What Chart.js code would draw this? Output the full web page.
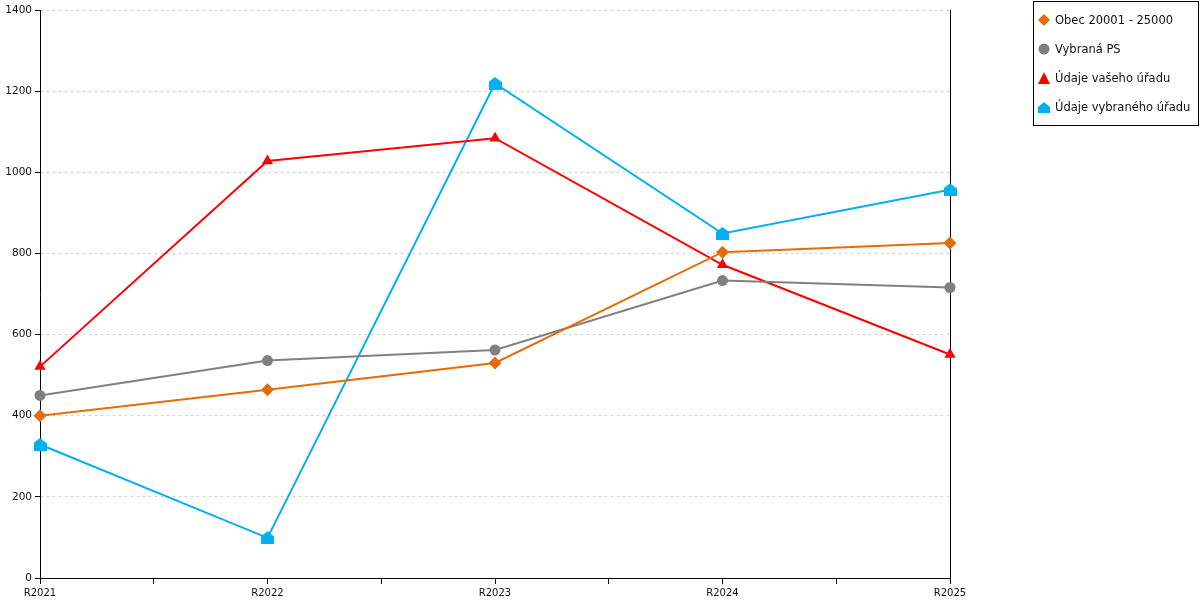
<!DOCTYPE html>
<html>
<head>
<meta charset="utf-8">
<script src="https://cdn.jsdelivr.net/npm/chart.js@4"></script>
<style>
  body { margin: 0; background: #fff; font-family: "DejaVu Sans", sans-serif; }
  #wrap { position: relative; width: 1200px; height: 600px; }
  #legend { position: absolute; left: 1033px; top: 1px; width: 166px; height: 125px; box-sizing: border-box; border: 1px solid #000; }
  .item { position: absolute; left: 4px; height: 14px; font-size: 11.5px; color: #111; line-height: 14px; white-space: nowrap; }
  .item svg { position: absolute; left: 0; top: 1px; }
  .item span { position: absolute; left: 17px; top: 0; }
</style>
</head>
<body>
<div id="wrap">
  <canvas id="lineChart" width="1200" height="600"></canvas>
  <div id="legend"></div>
</div>
<script>
const years = ["R2021", "R2022", "R2023", "R2024", "R2025"];
const seriesNames = ["Obec 20001 - 25000", "Vybraná PS", "Údaje vašeho úřadu", "Údaje vybraného úřadu"];
const obecValues = [400, 464, 530, 803, 826];
const vybranaPsValues = [450, 536, 562, 733, 716];
const vasUradValues = [521, 1028, 1084, 772, 551];
const vybranyUradValues = [329, 99, 1219, 849, 957];
const yTicks = [0, 200, 400, 600, 800, 1000, 1200, 1400];

const colors = ["#e46c0a", "#808080", "#ff0000", "#00b0f0"];

// little "house" shaped marker for the last series
function houseMarker(color) {
    const c = document.createElement('canvas');
    c.width = 13; c.height = 13;
    const g = c.getContext('2d');
    g.fillStyle = color;
    g.beginPath();
    g.moveTo(6.5, 0);
    g.lineTo(13, 5);
    g.lineTo(13, 13);
    g.lineTo(0, 13);
    g.lineTo(0, 5);
    g.closePath();
    g.fill();
    return c;
}

function toPoints(values) {
    return values.map((v, i) => ({ x: i, y: v }));
}

function buildLegend() {
    const shapes = [
        '<polygon points="6,0 12,6 6,12 0,6" fill="' + colors[0] + '"/>',
        '<circle cx="6" cy="6" r="5.5" fill="' + colors[1] + '"/>',
        '<polygon points="6,0 12,12 0,12" fill="' + colors[2] + '"/>',
        '<polygon points="6,1 12,6 12,12 0,12 0,6" fill="' + colors[3] + '"/>'
    ];
    const tops = [12, 41, 70, 99];
    const box = document.getElementById('legend');
    seriesNames.forEach((name, i) => {
        const d = document.createElement('div');
        d.className = 'item';
        d.style.top = (tops[i] - 1) + 'px';
        d.innerHTML = '<svg width="12" height="12">' + shapes[i] + '</svg><span>' + name + '</span>';
        box.appendChild(d);
    });
}

function createChart() {
    const ctx = document.getElementById('lineChart').getContext('2d');
    const pointStyles = ['rectRot', 'circle', 'triangle', houseMarker(colors[3])];
    const radii = [6.5, 5.5, 6.5, 6];
    const allValues = [obecValues, vybranaPsValues, vasUradValues, vybranyUradValues];

    new Chart(ctx, {
        type: 'line',
        data: {
            datasets: allValues.map((vals, i) => ({
                label: seriesNames[i],
                data: toPoints(vals),
                borderColor: colors[i],
                backgroundColor: colors[i],
                borderWidth: 2,
                pointStyle: pointStyles[i],
                pointRadius: radii[i],
                pointHoverRadius: radii[i],
                pointBorderWidth: 0,
                clip: false,
                tension: 0
            }))
        },
        options: {
            responsive: false,
            animation: false,
            layout: { padding: { top: 10 } },
            plugins: { legend: { display: false }, tooltip: { enabled: false } },
            scales: {
                x: {
                    type: 'linear',
                    min: 0,
                    max: years.length - 1,
                    afterFit: s => { s.height = 22; },
                    afterBuildTicks: s => {
                        s.ticks = [];
                        for (let v = 0; v <= years.length - 1; v += 0.5) s.ticks.push({ value: v });
                    },
                    ticks: {
                        autoSkip: false,
                        maxRotation: 0,
                        padding: 3,
                        color: '#111',
                        font: { family: 'DejaVu Sans', size: 10 },
                        callback: v => Number.isInteger(v) ? years[v] : ''
                    },
                    grid: { drawOnChartArea: false, tickLength: 6, color: '#000', tickColor: '#000' },
                    border: { color: '#000', width: 1 }
                },
                y: {
                    min: 0,
                    max: 1400,
                    afterFit: s => { s.width = 40; },
                    afterBuildTicks: s => { s.ticks = yTicks.map(v => ({ value: v })); },
                    ticks: {
                        padding: 3,
                        color: '#111',
                        font: { family: 'DejaVu Sans', size: 10.5 },
                        callback: v => String(v)
                    },
                    grid: { color: '#c8c8c8', tickColor: '#000', tickLength: 5, tickBorderDash: [] },
                    border: { color: '#000', width: 1, dash: [2, 4] }
                },
                y2: {
                    position: 'right',
                    min: 0,
                    max: 1400,
                    afterFit: s => { s.width = 250; },
                    ticks: { display: false },
                    grid: { display: false },
                    border: { display: true, color: '#000', width: 1 }
                }
            }
        }
    });
}

document.addEventListener("DOMContentLoaded", function() {
    createChart();
    buildLegend();
});
</script>
</body>
</html>
